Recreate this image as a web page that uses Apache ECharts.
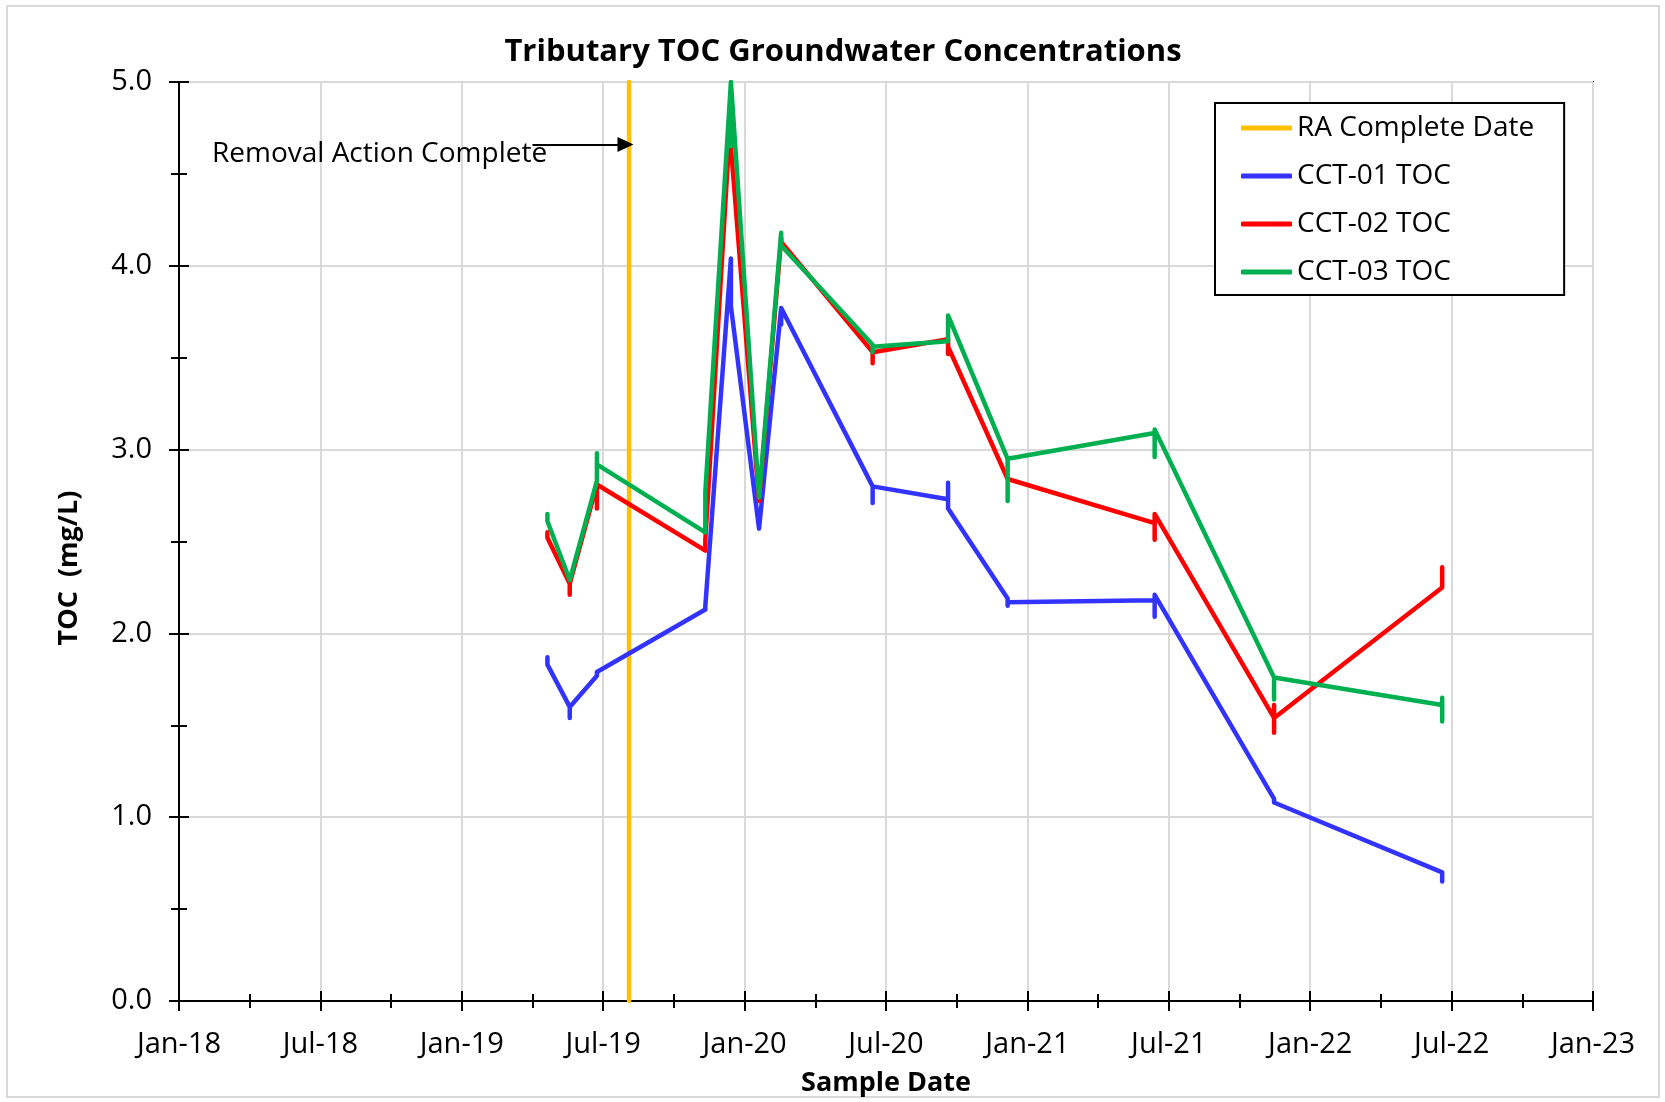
<!DOCTYPE html>
<html>
<head>
<meta charset="utf-8">
<title>Tributary TOC Groundwater Concentrations</title>
<script src="https://cdn.jsdelivr.net/npm/echarts@6.0.0/dist/echarts.min.js"></script>
<style>
	html, body { margin: 0; padding: 0; background: #fff; }
	#chart { width: 1665px; height: 1102px; }
</style>
</head>
<body>
<div id="chart"></div>
<script type="text/javascript">
// sample dates (repeated date = duplicate samples, drawn as a vertical step)
var cct01Dates = ['2019-04-20','2019-04-20','2019-05-19','2019-05-19','2019-05-19','2019-06-23','2019-06-23',
	'2019-11-11','2019-11-11','2019-12-14','2019-12-14','2020-01-20','2020-02-17','2020-02-17','2020-02-17',
	'2020-06-14','2020-06-14','2020-06-14','2020-09-20','2020-09-20','2020-09-20','2020-12-06','2020-12-06','2020-12-06',
	'2021-06-13','2021-06-13','2021-06-13','2021-11-15','2021-11-15','2022-06-19','2022-06-19'];
var cct01Values = [1.87, 1.83, 1.60, 1.54, 1.60, 1.77, 1.79,
	2.13, 2.15, 4.04, 3.78, 2.57, 3.77, 3.68, 3.77,
	2.80, 2.71, 2.80, 2.73, 2.82, 2.68, 2.19, 2.15, 2.17,
	2.18, 2.09, 2.21, 1.10, 1.08, 0.70, 0.65];

var cct02Dates = ['2019-04-20','2019-04-20','2019-05-19','2019-05-19','2019-05-19','2019-06-23','2019-06-23','2019-06-23',
	'2019-11-11','2019-11-11','2019-12-14','2019-12-14','2020-01-20','2020-02-17','2020-02-17',
	'2020-06-14','2020-06-14','2020-06-14','2020-09-20','2020-09-20','2020-09-20','2020-12-06',
	'2021-06-13','2021-06-13','2021-06-13','2021-11-15','2021-11-15','2021-11-15','2021-11-15','2022-06-19','2022-06-19'];
var cct02Values = [2.55, 2.52, 2.27, 2.21, 2.27, 2.81, 2.68, 2.81,
	2.45, 2.51, 4.85, 4.65, 2.72, 4.15, 4.13,
	3.53, 3.47, 3.53, 3.60, 3.52, 3.56, 2.84,
	2.60, 2.51, 2.65, 1.54, 1.61, 1.46, 1.54, 2.25, 2.36];

var cct03Dates = ['2019-04-20','2019-04-20','2019-05-19','2019-06-23','2019-06-23','2019-06-23',
	'2019-11-11','2019-11-11','2019-12-14','2019-12-14','2019-12-14','2020-01-20','2020-02-17','2020-02-17',
	'2020-06-14','2020-06-14','2020-06-14','2020-09-20','2020-09-20','2020-12-06','2020-12-06','2020-12-06',
	'2021-06-13','2021-06-13','2021-06-13','2021-11-15','2021-11-15','2021-11-15','2022-06-19','2022-06-19','2022-06-19'];
var cct03Values = [2.65, 2.61, 2.29, 2.83, 2.98, 2.92,
	2.55, 2.77, 5.00, 4.65, 5.00, 2.74, 4.18, 4.11,
	3.57, 3.53, 3.56, 3.59, 3.73, 2.95, 2.72, 2.95,
	3.09, 2.96, 3.11, 1.76, 1.64, 1.76, 1.61, 1.65, 1.52];

// removal action complete date
var raDates = ['2019-08-04', '2019-08-04'];
var raValues = [0, 5];

// x axis = months after Jan-2018, labels every 6 months
var xTickLabels = ['Jan-18','Jul-18','Jan-19','Jul-19','Jan-20','Jul-20','Jan-21','Jul-21','Jan-22','Jul-22','Jan-23'];
var yTickLabels = ['0.0','1.0','2.0','3.0','4.0','5.0'];

var seriesNames = ['RA Complete Date', 'CCT-01 TOC', 'CCT-02 TOC', 'CCT-03 TOC'];
var seriesColors = ['#FFC000', '#3333FF', '#FF0000', '#00B050'];

var FONT = '"Open Sans", "Liberation Sans", sans-serif';

// date string -> months since 2018-01-01
function toMonths(s) {
	var p = s.split('-');
	var y = parseInt(p[0], 10), m = parseInt(p[1], 10), d = parseInt(p[2], 10);
	var dim = new Date(Date.UTC(y, m, 0)).getUTCDate();
	return (y - 2018) * 12 + (m - 1) + (d - 1) / dim;
}

function pairs(dates, values) {
	var out = [];
	for (var i = 0; i < dates.length; i++) {
		out.push([toMonths(dates[i]), values[i]]);
	}
	return out;
}

function lineSeries(idx, dates, values) {
	return {
		name: seriesNames[idx],
		type: 'line',
		xAxisIndex: 0,
		yAxisIndex: 0,
		data: pairs(dates, values),
		symbol: 'none',
		color: seriesColors[idx],
		lineStyle: { width: 4.5, color: seriesColors[idx], cap: 'round', join: 'round' },
		z: 3 + idx
	};
}

var raSeries = lineSeries(0, raDates, raValues);
// arrow pointing at the RA line
raSeries.markLine = {
	silent: true,
	symbol: ['none', 'triangle'],
	symbolSize: [15, 16],
	label: { show: false },
	lineStyle: { color: '#000', width: 2, type: 'solid' },
	data: [[
		{ coord: [15.0, 4.66] },
		{ coord: [toMonths(raDates[0]) - 0.15, 4.66] }
	]]
};

var myChart = echarts.init(document.getElementById('chart'), null, { renderer: 'canvas' });

var option = {
	animation: false,
	backgroundColor: '#fff',
	title: {
		text: 'Tributary TOC Groundwater Concentrations',
		left: 838,
		textAlign: 'center',
		top: 32,
		textStyle: { fontFamily: FONT, fontSize: 31, fontWeight: 'bold', color: '#000' }
	},
	legend: {
		orient: 'vertical',
		left: 1215,
		top: 103,
		data: seriesNames,
		icon: 'roundRect',
		itemWidth: 51,
		itemHeight: 5,
		itemGap: 18,
		padding: [10, 30, 8, 26],
		borderColor: '#000',
		borderWidth: 2,
		backgroundColor: '#fff',
		textStyle: { fontFamily: FONT, fontSize: 28, color: '#000', lineHeight: 30 }
	},
	grid: {
		left: 179,
		top: 82,
		width: 1414,
		height: 922,
		show: true,
		borderColor: '#000',
		borderWidth: 2,
		backgroundColor: 'transparent'
	},
	xAxis: [{
		type: 'value',
		min: 0,
		max: 60,
		interval: 6,
		name: 'Sample Date',
		nameLocation: 'middle',
		nameGap: 69,
		nameTextStyle: { fontFamily: FONT, fontSize: 27, fontWeight: 'bold', color: '#000' },
		axisLine: { show: true, lineStyle: { color: '#000', width: 2 } },
		axisTick: { show: true, length: 10, lineStyle: { color: '#000', width: 2 } },
		minorTick: { show: true, splitNumber: 2, length: 7, lineStyle: { color: '#000', width: 2 } },
		splitLine: { show: true, lineStyle: { color: '#d9d9d9', width: 2 } },
		axisLabel: {
			margin: 29,
			fontFamily: FONT,
			fontSize: 29,
			color: '#000',
			formatter: function (v) { return xTickLabels[Math.round(v / 6)]; }
		}
	}, {
		type: 'value',
		position: 'bottom',
		min: 0,
		max: 60,
		interval: 6,
		axisLine: { show: false },
		axisTick: { show: true, inside: true, length: 10, lineStyle: { color: '#000', width: 2 } },
		minorTick: { show: true, splitNumber: 2, length: 7, lineStyle: { color: '#000', width: 2 } },
		splitLine: { show: false },
		axisLabel: { show: false }
	}],
	yAxis: [{
		type: 'value',
		position: 'left',
		min: 0,
		max: 5,
		interval: 1,
		axisLine: { show: true, lineStyle: { color: '#000', width: 2 } },
		axisTick: { show: true, length: 10, lineStyle: { color: '#000', width: 2 } },
		minorTick: { show: true, splitNumber: 2, length: 8, lineStyle: { color: '#000', width: 2 } },
		splitLine: { show: true, lineStyle: { color: '#d9d9d9', width: 2 } },
		axisLabel: {
			margin: 27,
			fontFamily: FONT,
			fontSize: 29,
			color: '#000',
			formatter: function (v) { return yTickLabels[Math.round(v)]; }
		}
	}, {
		type: 'value',
		position: 'left',
		min: 0,
		max: 5,
		interval: 1,
		axisLine: { show: false },
		axisTick: { show: true, inside: true, length: 10, lineStyle: { color: '#000', width: 2 } },
		minorTick: { show: true, splitNumber: 2, length: 8, lineStyle: { color: '#000', width: 2 } },
		splitLine: { show: false },
		axisLabel: { show: false }
	}],
	graphic: [{
		type: 'rect',
		silent: true,
		z: -10,
		shape: { x: 7, y: 6, width: 1652, height: 1091 },
		style: { fill: 'none', stroke: '#d9d9d9', lineWidth: 2 }
	}, {
		type: 'text',
		silent: true,
		left: 212,
		top: 140,
		z: 10,
		style: { text: 'Removal Action Complete', fontFamily: FONT, fontSize: 28, fill: '#000' }
	}, {
		// y axis title
		type: 'text',
		silent: true,
		x: 69,
		y: 568,
		rotation: Math.PI / 2,
		z: 10,
		style: {
			text: 'TOC  (mg/L)',
			fontFamily: FONT,
			fontSize: 27,
			fontWeight: 'bold',
			fill: '#000',
			align: 'center',
			verticalAlign: 'middle'
		}
	}],
	series: [
		raSeries,
		lineSeries(1, cct01Dates, cct01Values),
		lineSeries(2, cct02Dates, cct02Values),
		lineSeries(3, cct03Dates, cct03Values)
	]
};

myChart.setOption(option);
</script>
</body>
</html>
